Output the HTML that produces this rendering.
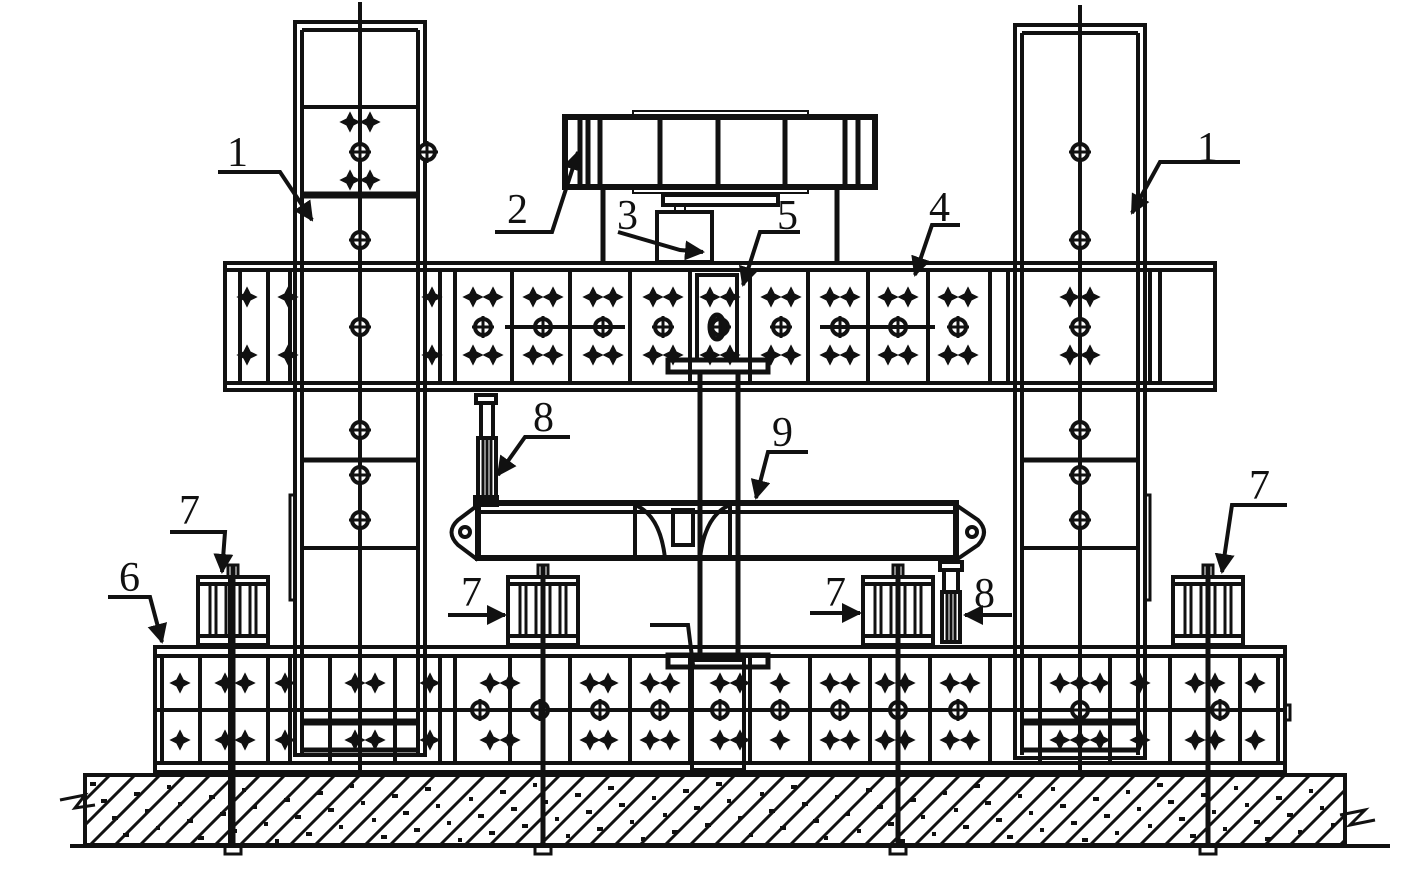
<!DOCTYPE html>
<html><head><meta charset="utf-8"><style>
html,body{margin:0;padding:0;background:#fff;}
svg{display:block}
text{font-family:"Liberation Serif",serif;font-size:42px;fill:#111}
</style></head><body>
<svg id="s" width="1417" height="874" viewBox="0 0 1417 874" xmlns="http://www.w3.org/2000/svg">
<defs>
<marker id="ar" viewBox="0 0 10 10" refX="9" refY="5" markerWidth="5" markerHeight="5" orient="auto"><path d="M0,0L10,5L0,10z" fill="#111"/></marker>
</defs>
<g id="g" stroke="#111" fill="none" stroke-width="4"></g>
<g id="lab">
<text x="227" y="166">1</text>
<text x="507" y="223">2</text>
<text x="617" y="229">3</text>
<text x="777" y="229">5</text>
<text x="929" y="221">4</text>
<text x="1197" y="161">1</text>
<text x="533" y="431">8</text>
<text x="772" y="446">9</text>
<text x="179" y="524">7</text>
<text x="119" y="591">6</text>
<text x="461" y="606">7</text>
<text x="825" y="606">7</text>
<text x="974" y="607">8</text>
<text x="1249" y="499">7</text>
</g>
</svg>
<script>
var g=document.getElementById('g'),NS="http://www.w3.org/2000/svg";
function el(t,a){var e=document.createElementNS(NS,t);for(var k in a)e.setAttribute(k,a[k]);g.appendChild(e);return e;}
function L(x1,y1,x2,y2,w){el('line',{x1:x1,y1:y1,x2:x2,y2:y2,'stroke-width':w||4});}
function R(x,y,w,h,sw){el('rect',{x:x,y:y,width:w,height:h,'stroke-width':sw||4});}
function star(x,y){var s=9,t=3;el('path',{d:'M'+x+','+(y-s)+'L'+(x+t)+','+(y-t)+'L'+(x+s)+','+y+'L'+(x+t)+','+(y+t)+'L'+x+','+(y+s)+'L'+(x-t)+','+(y+t)+'L'+(x-s)+','+y+'L'+(x-t)+','+(y-t)+'z',fill:'#111','stroke-width':1.5});}
function cb(x,y){el('circle',{cx:x,cy:y,r:8,'stroke-width':4,fill:'#fff'});L(x-11,y,x+11,y,3);L(x,y-11,x,y+11,3);}
function AR(pts){el('polyline',{points:pts,'stroke-width':4,'marker-end':'url(#ar)'});}
// ground
R(85,775,1260,70,4);
L(70,846,1390,846,4);
for(var x=40;x<1400;x+=25){var x1=x,x2=x+70;
 var a=Math.max(85,x1),b=Math.min(1345,x2);if(a>=b)continue;
 var ya=845-(a-x1),yb=845-(b-x1);L(a,ya,b,yb,3);}
for(var i=0;i<180;i++){var px=90+((i*97)%1250),py=782+((i*37)%58);el('rect',{x:px,y:py,width:4,height:4,fill:'#111','stroke-width':0});}
el('polyline',{points:'60,800 85,795 75,808 95,805','stroke-width':3});
el('polyline',{points:'1340,815 1365,810 1350,825 1375,820','stroke-width':3});
// base beam
R(155,647,1130,125,4);L(155,656,1285,656,4);L(155,763,1285,763,4);
var bs=[162,200,268,290,330,395,440,455,510,570,630,690,750,810,870,930,990,1040,1110,1170,1240,1278];
bs.forEach(function(x){L(x,656,x,763,4);});
L(155,710,1285,710,4);
[180,225,245,285,355,375,430,490,510,590,608,650,670,720,740,780,830,850,885,905,950,970,1060,1080,1100,1140,1195,1215,1255].forEach(function(x){star(x,683);star(x,740);});
[480,540,600,660,720,780,840,898,958,1080,1220].forEach(function(x){cb(x,710);});
// columns
function col(x0,top,div){R(x0,top,130,733,4);L(x0+7,top+8,x0+7,755,4);L(x0+123,top+8,x0+123,755,4);L(x0+7,top+8,x0+123,top+8,4);
 L(x0+65,top-20,x0+65,775,4);
 if(div){L(x0+7,107,x0+123,107,4);L(x0+7,195,x0+123,195,7);}
 L(x0+7,460,x0+123,460,5);L(x0+7,548,x0+123,548,4);L(x0+7,722,x0+123,722,7);L(x0+7,750,x0+123,750,5);
}
col(295,22,true);col(1015,25,false);
[[360,122,1],[360,152,0],[360,180,1],[360,240,0],[360,430,0],[360,475,0],[360,520,0],[1080,152,0],[1080,240,0],[1080,430,0],[1080,475,0],[1080,520,0]].forEach(function(b){if(b[2]){star(b[0]-10,b[1]);star(b[0]+10,b[1]);}else cb(b[0],b[1]);});
cb(427,152);
// top beam
R(225,263,990,127,4);L(225,270,1215,270,4);L(225,383,1215,383,4);
var ts=[240,268,290,302,418,440,455,512,570,630,690,750,808,868,928,990,1008,1150,1160,1215];
ts.forEach(function(x){L(x,270,x,383,4);});
star(247,297);star(247,355);star(288,297);star(288,355);star(432,297);star(432,355);
[483,543,603,663,720,781,840,898,958,1080].forEach(function(x){star(x-10,297);star(x+10,297);star(x-10,355);star(x+10,355);cb(x,327);});
cb(360,327);L(505,327,625,327,4);L(820,327,935,327,4);
// center 5 box
R(697,275,40,85,4);el('ellipse',{cx:717,cy:327,rx:7,ry:12,'stroke-width':5});
R(668,360,100,12,5);
// actuator 2
R(565,117,310,70,6);[580,588,600,660,718,785,845,858].forEach(function(x){L(x,117,x,187,5);});
R(633,111,175,6,2);R(633,187,175,6,2);
L(603,187,603,263,5);L(837,187,837,263,5);
R(663,195,115,10,4);R(675,205,10,8,2);
R(657,212,55,50,4);
// central strut
L(700,372,700,660,5);L(738,372,738,660,5);
R(668,655,100,12,5);R(692,660,52,110,4);
// beam 9
R(478,503,478,55,6);L(478,512,956,512,4);
el('path',{d:'M478,505 L458,520 Q445,532 458,545 L478,560','stroke-width':4});el('circle',{cx:465,cy:532,r:5,'stroke-width':4});
el('path',{d:'M956,505 L978,520 Q990,532 978,545 L956,560','stroke-width':4});el('circle',{cx:972,cy:532,r:5,'stroke-width':4});
L(635,505,635,558,4);L(730,505,730,558,4);el('path',{d:'M635,505 Q660,515 665,558','stroke-width':4});el('path',{d:'M730,505 Q705,515 700,558','stroke-width':4});
R(673,510,20,35,4);
// jack 8 upper
R(476,395,20,8,4);R(481,403,12,35,4);R(478,438,18,62,4);L(483,440,483,498,3);L(487,440,487,498,3);L(491,440,491,498,3);R(475,497,22,8,4);
// jack 8 lower
R(940,562,22,8,4);R(944,570,14,22,4);R(942,592,18,50,4);L(947,594,947,640,3);L(951,594,951,640,3);L(955,594,955,640,3);
// jacks 7 + anchors
function jack(x){R(x,577,70,68,4);L(x,584,x+70,584,4);L(x,636,x+70,636,4);[x+12,x+18,x+28,x+42,x+52,x+58].forEach(function(v){L(v,584,v,636,3);});
 R(x+30,565,10,12,3);L(x+35,565,x+35,848,5);R(x+27,846,16,8,3);}
jack(198);jack(508);jack(863);jack(1173);
L(230,575,230,848,4);
// leaders
AR('218,172 280,172 312,220');
AR('495,232 552,232 578,152');
AR('618,232 680,250 703,252');
AR('800,232 760,232 743,285');
AR('960,225 932,225 915,275');
AR('1240,162 1160,162 1132,213');
AR('570,437 525,437 498,475');
AR('808,452 768,452 756,498');
AR('170,532 225,532 222,572');
AR('108,597 150,597 162,642');
AR('448,615 505,615');
AR('810,613 860,613');
AR('1012,615 965,615');
AR('1287,505 1232,505 1222,572');
el('polyline',{points:'650,625 688,625 693,665','stroke-width':4});
// side plates
R(290,495,5,105,3);R(1145,495,5,105,3);R(1285,705,5,15,3);
</script>
</body></html>
